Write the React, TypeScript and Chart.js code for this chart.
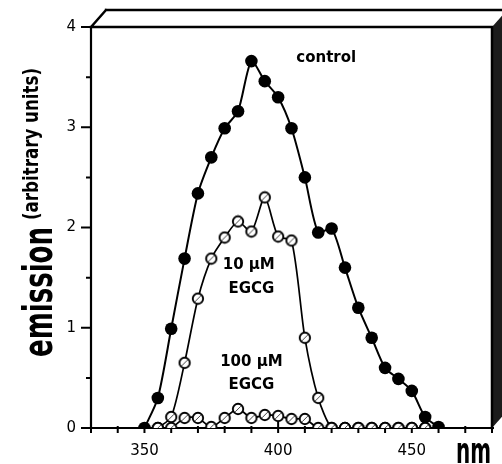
import React, { useEffect, useRef } from 'react';
import { Chart, registerables } from 'chart.js';

Chart.register(...registerables);

// ---- data ----
const wavelengths = [350, 355, 360, 365, 370, 375, 380, 385, 390, 395, 400, 405, 410, 415, 420, 425, 430, 435, 440, 445, 450, 455, 460];
const control = [0.0, 0.3, 0.99, 1.69, 2.34, 2.7, 2.99, 3.16, 3.66, 3.46, 3.3, 2.99, 2.5, 1.95, 1.99, 1.6, 1.2, 0.9, 0.6, 0.49, 0.37, 0.11, 0.01];
const egcg10 = [null, 0, 0.11, 0.65, 1.29, 1.69, 1.9, 2.06, 1.96, 2.3, 1.91, 1.87, 0.9, 0.3, 0, 0, 0, 0, 0, 0, 0, 0, null];
const egcg100 = [null, 0, 0, 0.1, 0.1, 0.01, 0.1, 0.19, 0.1, 0.13, 0.12, 0.09, 0.09, 0, 0, 0, 0, 0, 0, 0, 0, 0, null];
const xTickLabels = [350, 400, 450];
const yTickLabels = [0, 1, 2, 3, 4];
const seriesLabels = ['control', '10 µM EGCG', '100 µM EGCG'];
// annotation text placed in data space: [text, nm, value]
const annotations: [string, number, number][] = [
  ['control', 418, 3.69],
  ['10 µM', 389, 1.62],
  ['EGCG', 390, 1.39],
  ['100 µM', 390, 0.66],
  ['EGCG', 390, 0.43],
];

const toPoints = (vals: (number | null)[]) =>
  wavelengths.map((w, i) => ({ x: w, y: vals[i] }));

function makeOpenCircle(): HTMLCanvasElement {
  const c = document.createElement('canvas');
  c.width = 14;
  c.height = 14;
  const g = c.getContext('2d')!;
  g.beginPath();
  g.arc(7, 7, 5.2, 0, Math.PI * 2);
  g.fillStyle = '#fff';
  g.fill();
  g.lineWidth = 1.9;
  g.strokeStyle = '#000';
  g.stroke();
  g.beginPath();
  g.moveTo(4.2, 9.8);
  g.lineTo(9.8, 4.2);
  g.lineWidth = 1;
  g.strokeStyle = '#444';
  g.stroke();
  return c;
}

function drawCondensedVertical(ctx: CanvasRenderingContext2D, text: string, font: string, xBase: number, yStart: number, len: number) {
  ctx.save();
  ctx.font = font;
  const w = ctx.measureText(text).width;
  ctx.translate(xBase, yStart);
  ctx.rotate(-Math.PI / 2);
  ctx.scale(len / w, 1);
  ctx.textAlign = 'left';
  ctx.textBaseline = 'alphabetic';
  ctx.fillStyle = '#000';
  ctx.fillText(text, 0, 0);
  ctx.restore();
}

const framePlugin = {
  id: 'frame3d',
  beforeDatasetsDraw(chart: any) {
    const { ctx, chartArea: a, scales } = chart;
    const xs = scales.x;
    const ys = scales.y;
    const dx = 15;
    const dy = 17;
    const W = chart.width;
    ctx.save();
    // right dark side
    ctx.fillStyle = '#1c1c1c';
    ctx.beginPath();
    ctx.moveTo(a.right, a.top);
    ctx.lineTo(a.right + dx, a.top - dy);
    ctx.lineTo(a.right + dx, a.bottom - dy);
    ctx.lineTo(a.right, a.bottom);
    ctx.closePath();
    ctx.fill();
    ctx.strokeStyle = '#000';
    ctx.lineWidth = 2.5;
    ctx.lineCap = 'square';
    ctx.beginPath();
    ctx.moveTo(a.left + dx, a.top - dy);
    ctx.lineTo(W, a.top - dy);
    ctx.moveTo(a.left, a.top);
    ctx.lineTo(a.left + dx, a.top - dy);
    ctx.moveTo(a.left, a.top);
    ctx.lineTo(a.right, a.top);
    ctx.moveTo(a.right, a.top);
    ctx.lineTo(a.right, a.bottom);
    ctx.stroke();
    // axes
    ctx.lineWidth = 2.2;
    ctx.lineCap = 'butt';
    ctx.beginPath();
    ctx.moveTo(a.left, a.top);
    ctx.lineTo(a.left, a.bottom + 1);
    ctx.moveTo(a.left - 1, a.bottom);
    ctx.lineTo(a.right + 2, a.bottom);
    ctx.stroke();
    // ticks
    ctx.lineWidth = 2;
    ctx.beginPath();
    for (let v = 0; v <= 4.001; v += 0.5) {
      const py = ys.getPixelForValue(v);
      const major = Math.abs(v - Math.round(v)) < 1e-6;
      ctx.moveTo(a.left - (major ? 10 : 5), py);
      ctx.lineTo(a.left, py);
    }
    for (let v = 330; v <= 480; v += 10) {
      const px = xs.getPixelForValue(v);
      const major = v % 50 === 0;
      ctx.moveTo(px, a.bottom - (major ? 6 : 2));
      ctx.lineTo(px, a.bottom + 5);
    }
    ctx.stroke();
    ctx.restore();
  },
  afterDraw(chart: any) {
    const { ctx, scales } = chart;
    const xs = scales.x;
    const ys = scales.y;
    ctx.save();
    ctx.fillStyle = '#000';
    ctx.font = 'bold 15px "DejaVu Sans"';
    ctx.textAlign = 'center';
    ctx.textBaseline = 'middle';
    for (const [t, nm, v] of annotations) {
      ctx.fillText(t, xs.getPixelForValue(nm), ys.getPixelForValue(v));
    }
    ctx.restore();
    // y-axis title
    drawCondensedVertical(ctx, 'emission', 'bold 40px "DejaVu Sans"', 52, 357, 130);
    drawCondensedVertical(ctx, '(arbitrary units)', 'bold 22px "DejaVu Sans"', 38, 220, 152);
    // x-axis unit
    ctx.save();
    ctx.font = 'bold 36px "DejaVu Sans"';
    const w = ctx.measureText('nm').width;
    ctx.translate(456, 463);
    ctx.scale(35 / w, 1);
    ctx.fillStyle = '#000';
    ctx.textAlign = 'left';
    ctx.textBaseline = 'alphabetic';
    ctx.fillText('nm', 0, 0);
    ctx.restore();
  },
};

export default function App() {
  const ref = useRef<HTMLCanvasElement>(null);
  useEffect(() => {
    if (!ref.current) return;
    const open = makeOpenCircle();
    const chart = new Chart(ref.current, {
      type: 'line',
      data: {
        datasets: [
          {
            label: seriesLabels[0],
            data: toPoints(control),
            borderColor: '#000',
            borderWidth: 2,
            backgroundColor: '#000',
            pointBackgroundColor: '#000',
            pointBorderColor: '#000',
            pointRadius: 6.3,
            pointBorderWidth: 0,
            tension: 0.25,
            order: 0,
          },
          {
            label: seriesLabels[1],
            data: toPoints(egcg10),
            borderColor: '#000',
            borderWidth: 1.7,
            pointStyle: open,
            pointRadius: 6,
            tension: 0.25,
            order: 1,
          },
          {
            label: seriesLabels[2],
            data: toPoints(egcg100),
            borderColor: '#000',
            borderWidth: 1.7,
            pointStyle: open,
            pointRadius: 6,
            tension: 0.25,
            order: 2,
          },
        ],
      },
      options: {
        animation: false,
        responsive: false,
        layout: { padding: { top: 27, right: 10, left: 0, bottom: 0 } },
        plugins: { legend: { display: false }, tooltip: { enabled: false } },
        scales: {
          x: {
            type: 'linear',
            min: 330,
            max: 480,
            grid: { display: false, drawTicks: false },
            border: { display: false },
            afterFit: (s: any) => { s.height = 36; s.paddingLeft = 0; s.paddingRight = 0; },
            ticks: {
              stepSize: 10,
              autoSkip: false,
              maxRotation: 0,
              padding: 14,
              color: '#000',
              font: { family: '"DejaVu Sans"', size: 15 },
              callback: (v: any) => (xTickLabels.includes(Number(v)) ? String(v) : ''),
            },
          },
          y: {
            min: 0,
            max: 4,
            grid: { display: false, drawTicks: false },
            border: { display: false },
            afterFit: (s: any) => { s.width = 91; },
            ticks: {
              stepSize: 1,
              padding: 15,
              color: '#000',
              font: { family: '"DejaVu Sans"', size: 15 },
              callback: (v: any) => (yTickLabels.includes(Number(v)) ? String(v) : ''),
            },
          },
        },
      },
      plugins: [framePlugin],
    } as any);
    return () => chart.destroy();
  }, []);
  return (
    <div style={{ position: 'absolute', left: 0, top: 0, width: 502, height: 464, background: '#fff' }}>
      <canvas ref={ref} width={502} height={464} />
    </div>
  );
}
